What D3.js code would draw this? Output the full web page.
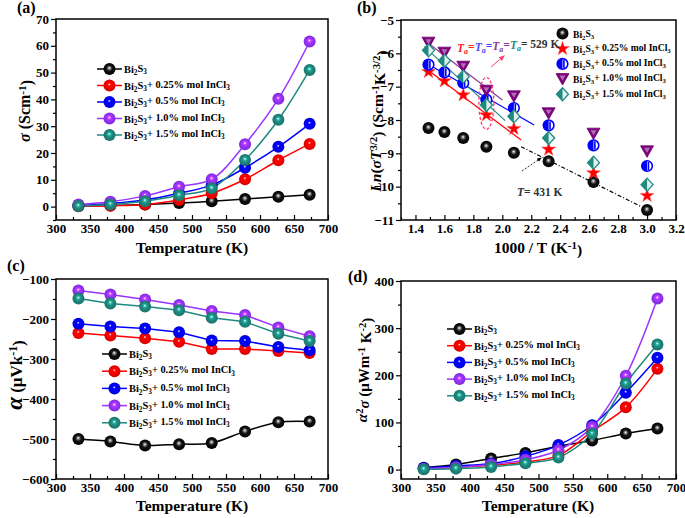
<!DOCTYPE html>
<html><head><meta charset="utf-8">
<script src="https://cdn.jsdelivr.net/npm/d3@7"></script>
<style>body{margin:0;background:#fff}svg{display:block}text{font-family:"Liberation Serif","Times New Roman",serif;font-weight:bold}</style>
</head><body>
<svg id="chart" width="685" height="518"></svg>
<script>
// ---------------- data ----------------
const temps = [333, 380, 431, 481, 529, 578, 627, 673];
const invT = [3.00, 2.63, 2.32, 2.08, 1.89, 1.73, 1.60, 1.49];
const seriesKeys = ["pure", "x025", "x05", "x10", "x15"];
const seriesDoping = [null, "0.25", "0.5", "1.0", "1.5"];
const seriesColors = ["#000000", "#ff0000", "#0000ff", "#9933ff", "#1f8a80"];
const markerColorsB = ["#000000", "#ff0000", "#0000ff", "#800080", "#1f8a80"];

// (a) electrical conductivity, S/cm
const sigmaPure = [0.2, 0.4, 0.8, 1.3, 2.0, 2.8, 3.7, 4.4];
const sigma025 = [0.1, 0.3, 0.8, 2.5, 5.0, 10.2, 17.3, 23.4];
const sigma05 = [0.5, 1.2, 2.5, 5.0, 8.0, 14.5, 22.3, 30.9];
const sigma10 = [0.8, 1.8, 4.0, 7.4, 10.2, 23.3, 40.2, 61.6];
const sigma15 = [0.2, 0.8, 2.0, 4.2, 6.8, 17.4, 32.4, 51.0];

// (b) Ln(sigma T^3/2), listed in the same temperature order
const lnPure = [-10.70, -9.86, -9.24, -8.98, -8.80, -8.54, -8.36, -8.24];
const ln025 = [-10.27, -9.59, -8.88, -8.26, -7.85, -7.25, -6.83, -6.55];
const ln05 = [-9.38, -8.76, -8.16, -7.64, -7.39, -6.89, -6.57, -6.34];
const ln10 = [-8.94, -8.41, -7.80, -7.29, -7.12, -6.40, -5.98, -5.68];
const ln15 = [-9.94, -9.28, -8.54, -7.89, -7.55, -6.70, -6.22, -5.91];
// fitted lines in (b): [xStart, xEnd], [yStart, yEnd]
const fitX = [[2.13, 2.96], [1.47, 2.13], [1.47, 2.22], [1.46, 2.00], [1.46, 2.02]];
const fitY = [[-8.80, -10.60], [-6.45, -8.60], [-6.28, -8.15], [-5.60, -7.40], [-5.80, -8.02]];

// (c) Seebeck coefficient, uV/K
const seebPure = [-500, -506, -516, -513, -510, -481, -458, -456];
const seeb025 = [-235, -241, -248, -257, -275, -275, -280, -285];
const seeb05 = [-212, -219, -224, -233, -254, -255, -270, -278];
const seeb10 = [-129, -139, -151, -165, -180, -190, -221, -243];
const seeb15 = [-149, -161, -169, -178, -197, -207, -237, -255];

// (d) power factor, uW m^-1 K^-2
const pfPure = [4, 10.6, 23.4, 35.4, 49.6, 61.6, 76.5, 87];
const pf025 = [1.4, 5, 9, 16, 30, 81, 132, 214];
const pf05 = [3.5, 7.8, 12.7, 28, 52, 94, 163, 237];
const pf10 = [2, 5, 10.6, 21, 41, 90.6, 199, 363];
const pf15 = [0.5, 2, 5.7, 13.5, 25.5, 75.8, 182.6, 265.5];

const xTicksT = [300, 350, 400, 450, 500, 550, 600, 650, 700];
const yTicksA = [0, 10, 20, 30, 40, 50, 60, 70];
const xTicksB = [1.4, 1.6, 1.8, 2.0, 2.2, 2.4, 2.6, 2.8, 3.0, 3.2];
const yTicksB = [-11, -10, -9, -8, -7, -6, -5];
const yTicksC = [-600, -500, -400, -300, -200, -100];
const yTicksD = [0, 100, 200, 300, 400];

// ---------------- drawing ----------------
const svg = d3.select("#chart");
const defs = svg.append("defs");

function shade(c, k) { return d3.color(c).darker(k).formatHex(); }
seriesColors.concat(markerColorsB).forEach((c, i) => {
  const g = defs.append("radialGradient").attr("id", "g" + i)
    .attr("cx", "50%").attr("cy", "50%").attr("r", "55%").attr("fx", "48%").attr("fy", "40%");
  const base = c === "#000000" ? "#111" : c;
  g.append("stop").attr("offset", "0%").attr("stop-color", "#ffffff");
  g.append("stop").attr("offset", "22%").attr("stop-color", c === "#000000" ? "#777" : d3.color(c).brighter(0.8).formatHex());
  g.append("stop").attr("offset", "45%").attr("stop-color", base);
  g.append("stop").attr("offset", "100%").attr("stop-color", c === "#000000" ? "#000" : shade(c, 0.6));
});

function rich(sel, parts) {
  let shift = 0;
  parts.forEach(p => {
    const ts = sel.append("tspan").text(p.t);
    let target = 0, size = null;
    if (p.sub) { target = 0.3; size = "70%"; }
    if (p.sup) { target = -0.4; size = "70%"; }
    const dy = target - shift;
    if (dy !== 0) ts.attr("dy", dy + "em");
    if (size) ts.attr("font-size", size);
    if (p.it) ts.attr("font-style", "italic");
    if (p.fill) ts.attr("fill", p.fill);
    if (p.fs) ts.attr("font-size", p.fs);
    shift = target;
  });
}
function legendParts(i) {
  const parts = [{t: "Bi"}, {t: "2", sub: true}, {t: "S"}, {t: "3", sub: true}];
  if (seriesDoping[i]) parts.push({t: "+ " + seriesDoping[i] + "% mol InCl"}, {t: "3", sub: true});
  return parts;
}

function makePanel(p) {
  const g = svg.append("g");
  const x = d3.scaleLinear().domain(p.xdom).range([p.x0, p.x1]);
  const y = d3.scaleLinear().domain(p.ydom).range([p.y1, p.y0]);
  g.append("g").attr("transform", `translate(0,${p.y1})`)
    .call(d3.axisBottom(x).tickValues(p.xminor).tickSize(-3).tickFormat(""))
    .call(s => s.select(".domain").remove());
  g.append("g").attr("transform", `translate(${p.x0},0)`)
    .call(d3.axisLeft(y).tickValues(p.yminor).tickSize(3).tickFormat(""))
    .call(s => s.select(".domain").remove());
  const xa = g.append("g").attr("transform", `translate(0,${p.y1})`)
    .call(d3.axisBottom(x).tickValues(p.xticks).tickSize(-5).tickPadding(4).tickFormat(p.xfmt || d3.format("d")));
  xa.select(".domain").remove();
  const ya = g.append("g").attr("transform", `translate(${p.x0},0)`)
    .call(d3.axisLeft(y).tickValues(p.yticks).tickSize(5).tickPadding(2).tickFormat(p.yfmt || d3.format("d")));
  ya.select(".domain").remove();
  g.selectAll(".tick text").attr("font-size", 13).attr("font-family", "Liberation Serif").attr("font-weight", "bold").attr("fill", "#000");
  g.selectAll(".tick line").attr("stroke", "#000").attr("stroke-width", 1.2);
  g.append("rect").attr("x", p.x0).attr("y", p.y0).attr("width", p.x1 - p.x0).attr("height", p.y1 - p.y0)
    .attr("fill", "none").attr("stroke", "#000").attr("stroke-width", 1.5);
  return {g, x, y};
}

const xMinorT = d3.range(325, 700, 50);
const A = makePanel({x0: 56, x1: 328, y0: 19, y1: 220, xdom: [300, 700], ydom: [-5, 70],
  xticks: xTicksT, xminor: xMinorT, yticks: yTicksA, yminor: [-5, 5, 15, 25, 35, 45, 55, 65]});
const B = makePanel({x0: 401, x1: 676, y0: 20, y1: 220, xdom: [1.3, 3.2], ydom: [-11, -5],
  xticks: xTicksB, xminor: [1.3, 1.5, 1.7, 1.9, 2.1, 2.3, 2.5, 2.7, 2.9, 3.1], xfmt: d3.format(".1f"),
  yticks: yTicksB, yminor: [-10.5, -9.5, -8.5, -7.5, -6.5, -5.5]});
const C = makePanel({x0: 56, x1: 328, y0: 279, y1: 479, xdom: [300, 700], ydom: [-600, -100],
  xticks: xTicksT, xminor: xMinorT, yticks: yTicksC, yminor: [-550, -450, -350, -250, -150]});
const D = makePanel({x0: 401, x1: 676, y0: 281, y1: 479, xdom: [300, 700], ydom: [-20, 400],
  xticks: xTicksT, xminor: xMinorT, yticks: yTicksD, yminor: [50, 150, 250, 350]});

function drawSeries(P, arrays, curves) {
  arrays.forEach((arr, i) => {
    const pts = temps.map((t, j) => [P.x(t), P.y(arr[j])]);
    P.g.append("path").attr("d", d3.line().curve(curves[i])(pts))
      .attr("fill", "none").attr("stroke", seriesColors[i]).attr("stroke-width", 1.5);
  });
  arrays.forEach((arr, i) => {
    P.g.selectAll(null).data(arr).join("circle")
      .attr("cx", (d, j) => P.x(temps[j])).attr("cy", d => P.y(d)).attr("r", 6)
      .attr("fill", `url(#g${i})`);
  });
}
function drawLegend(P, lx, ly, dy, fs) {
  seriesColors.forEach((c, i) => {
    const yy = ly + i * dy;
    P.g.append("line").attr("x1", lx).attr("x2", lx + 25).attr("y1", yy).attr("y2", yy)
      .attr("stroke", c).attr("stroke-width", 1.5);
    P.g.append("circle").attr("cx", lx + 12.5).attr("cy", yy).attr("r", 6).attr("fill", `url(#g${i})`);
    const t = P.g.append("text").attr("x", lx + 27).attr("y", yy + 4).attr("font-size", fs);
    rich(t, legendParts(i));
  });
}
const smooth = d3.curveCatmullRom.alpha(0.5);
drawSeries(A, [sigmaPure, sigma025, sigma05, sigma10, sigma15], [smooth, smooth, smooth, smooth, smooth]);
drawLegend(A, 97, 69, 16.5, 10.4);
drawSeries(C, [seebPure, seeb025, seeb05, seeb10, seeb15], [smooth, d3.curveLinear, d3.curveLinear, d3.curveLinear, d3.curveLinear]);
drawLegend(C, 102, 354, 17.2, 10.4);
drawSeries(D, [pfPure, pf025, pf05, pf10, pf15], [smooth, smooth, smooth, smooth, smooth]);
drawLegend(D, 447, 329, 16.7, 10.4);

// ---- panel (b) ----
const lnAll = [lnPure, ln025, ln05, ln10, ln15];
fitX.forEach((fx, i) => {
  B.g.append("line").attr("x1", B.x(fx[0])).attr("x2", B.x(fx[1]))
    .attr("y1", B.y(fitY[i][0])).attr("y2", B.y(fitY[i][1]))
    .attr("stroke", i === 3 ? "#8a3a9a" : seriesColors[i]).attr("stroke-width", 1.2)
    .attr("stroke-dasharray", i === 0 ? "4,2,1,2" : null);
});
function marker(g, i, cx, cy) {
  const c = markerColorsB[i];
  if (i === 0) {
    g.append("circle").attr("cx", cx).attr("cy", cy).attr("r", 6).attr("fill", "url(#g5)");
  } else if (i === 1) {
    const star = d3.symbol().type(d3.symbolStar).size(60)();
    g.append("path").attr("d", star).attr("transform", `translate(${cx},${cy})`)
      .attr("fill", c).attr("stroke", "#ff5050").attr("stroke-width", 0.5);
  } else if (i === 2) {
    g.append("circle").attr("cx", cx).attr("cy", cy).attr("r", 5.3).attr("fill", "#fff").attr("stroke", c).attr("stroke-width", 1.6);
    g.append("path").attr("d", `M${cx},${cy - 5.3}A5.3,5.3 0 0 0 ${cx},${cy + 5.3}Z`).attr("fill", c);
    g.append("rect").attr("x", cx + 0.6).attr("y", cy - 4).attr("width", 1.6).attr("height", 8).attr("fill", c);
  } else if (i === 3) {
    g.append("path").attr("d", `M${cx - 6.5},${cy - 5.5}L${cx + 6.5},${cy - 5.5}L${cx},${cy + 6}Z`)
      .attr("fill", c).attr("stroke", "#6a006a").attr("stroke-width", 0.8);
    g.append("path").attr("d", `M${cx - 3},${cy - 3.5}L${cx + 3},${cy - 3.5}L${cx},${cy + 1.5}Z`).attr("fill", "#b070b0");
  } else {
    g.append("path").attr("d", `M${cx},${cy - 6.5}L${cx + 6},${cy}L${cx},${cy + 6.5}L${cx - 6},${cy}Z`)
      .attr("fill", "#dff0ee").attr("stroke", c).attr("stroke-width", 1.3);
    g.append("path").attr("d", `M${cx},${cy - 6.5}L${cx - 6},${cy}L${cx},${cy + 6.5}Z`).attr("fill", c);
  }
}
lnAll.forEach((arr, i) => {
  arr.forEach((v, j) => marker(B.g, i, B.x(invT[j]), B.y(v)));
});
// legend (b)
seriesColors.forEach((c, i) => {
  const yy = 33.5 + i * 15.2;
  marker(B.g, i, 562.5, yy);
  const t = B.g.append("text").attr("x", 573).attr("y", yy + 4).attr("font-size", 9.6);
  rich(t, legendParts(i));
});
// ellipse + annotation
B.g.append("ellipse").attr("cx", B.x(1.89)).attr("cy", B.y(-7.5)).attr("rx", 7.5).attr("ry", 26)
  .attr("fill", "none").attr("stroke", "#ff3d6e").attr("stroke-width", 1.3).attr("stroke-dasharray", "3,2");
defs.append("marker").attr("id", "arrP").attr("viewBox", "0 0 10 10").attr("refX", 8).attr("refY", 5)
  .attr("markerWidth", 6).attr("markerHeight", 6).attr("orient", "auto")
  .append("path").attr("d", "M0,1L10,5L0,9Z").attr("fill", "#ff3d6e");
defs.append("marker").attr("id", "arrK").attr("viewBox", "0 0 10 10").attr("refX", 8).attr("refY", 5)
  .attr("markerWidth", 6).attr("markerHeight", 6).attr("orient", "auto")
  .append("path").attr("d", "M0,1L10,5L0,9Z").attr("fill", "#000");
B.g.append("line").attr("x1", 491).attr("y1", 67).attr("x2", 504).attr("y2", 56)
  .attr("stroke", "#ff3d6e").attr("stroke-width", 1).attr("marker-end", "url(#arrP)");
const ta = B.g.append("text").attr("x", 457).attr("y", 52).attr("font-size", 11.5);
rich(ta, [{t: "T", it: true, fill: "#ff2020"}, {t: "a", sub: true, it: true, fill: "#ff2020"},
  {t: "=", fill: "#ff2020"}, {t: "T", it: true, fill: "#4a4aff"}, {t: "a", sub: true, it: true, fill: "#4a4aff"},
  {t: "=", fill: "#4a4aff"}, {t: "T", it: true, fill: "#8a3a9a"}, {t: "a", sub: true, it: true, fill: "#8a3a9a"},
  {t: "=", fill: "#8a3a9a"}, {t: "T", it: true, fill: "#1f8a80"}, {t: "a", sub: true, it: true, fill: "#1f8a80"},
  {t: "= 529 K", fill: "#333"}]);
B.g.append("line").attr("x1", 522).attr("y1", 171).attr("x2", 541).attr("y2", 158)
  .attr("stroke", "#000").attr("stroke-width", 0.8).attr("stroke-dasharray", "2,1.5").attr("marker-end", "url(#arrK)");
const t431 = B.g.append("text").attr("x", 517).attr("y", 196).attr("font-size", 11.5).attr("fill", "#333");
rich(t431, [{t: "T", it: true}, {t: "= 431 K"}]);

// ---------------- titles ----------------
function title(x, y, parts, size, rot) {
  const t = svg.append("text").attr("text-anchor", "middle").attr("font-size", size)
    .attr("transform", `translate(${x},${y})` + (rot ? " rotate(-90)" : ""));
  rich(t, parts);
  return t;
}
title(192, 253, [{t: "Temperature  (K)"}], 15.5);
title(538, 253, [{t: "1000 / T  (K"}, {t: "-1", sup: true}, {t: ")"}], 15.5);
title(192, 511, [{t: "Temperature  (K)"}], 15.5);
title(538, 511, [{t: "Temperature  (K)"}], 15.5);
title(30, 111, [{t: "σ", it: true}, {t: "  (Scm"}, {t: "-1", sup: true}, {t: ")"}], 16, true);
title(381, 121, [{t: "Ln", it: true}, {t: "("}, {t: "σT", it: true}, {t: "3/2", sup: true}, {t: ")  (Scm"}, {t: "-1", sup: true}, {t: "K"}, {t: "-3/2", sup: true}, {t: ")"}], 15.5, true);
title(22, 375, [{t: "α", it: true, fs: "23px"}, {t: " (μVk", fs: "17px"}, {t: "-1", sup: true}, {t: ")", fs: "17px"}], 17, true);
title(367, 370, [{t: "α", it: true}, {t: "2", sup: true}, {t: "σ", it: true}, {t: " (μWm"}, {t: "-1", sup: true}, {t: " K"}, {t: "-2", sup: true}, {t: ")"}], 15, true);

svg.append("text").attr("x", 17).attr("y", 13).attr("font-size", 16).text("(a)");
svg.append("text").attr("x", 357).attr("y", 13).attr("font-size", 16).text("(b)");
svg.append("text").attr("x", 7).attr("y", 271).attr("font-size", 16).text("(c)");
svg.append("text").attr("x", 348).attr("y", 282).attr("font-size", 16).text("(d)");
</script>
</body></html>
